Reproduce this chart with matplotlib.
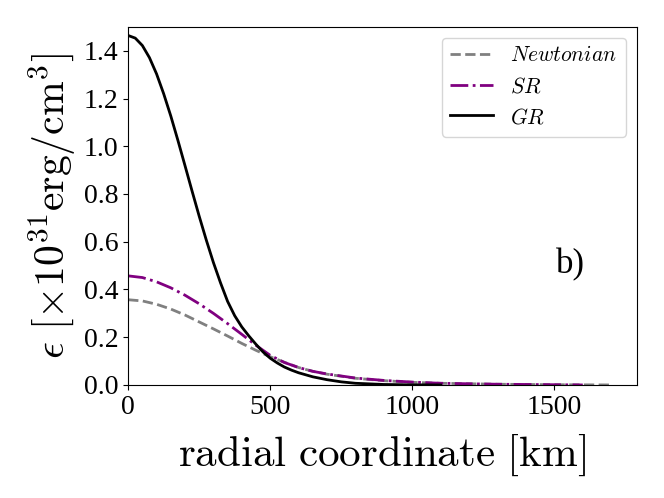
import matplotlib
matplotlib.use("Agg")
import matplotlib.pyplot as plt

plt.rcParams['font.family'] = ['Liberation Serif', 'DejaVu Serif']
plt.rcParams['mathtext.fontset'] = 'cm'

# radial coordinate [km] and energy density [1e31 erg/cm^3]
r_newt = [0, 50, 100, 150, 200, 250, 300, 350, 400, 450, 500, 550, 600, 650, 700,
          800, 900, 1000, 1100, 1200, 1300, 1400, 1500, 1600, 1700]
eps_newt = [0.357, 0.352, 0.338, 0.318, 0.293, 0.264, 0.235, 0.205, 0.174, 0.145,
            0.118, 0.095, 0.073, 0.057, 0.045, 0.028, 0.018, 0.011, 0.007, 0.005,
            0.003, 0.002, 0.001, 0.0005, 0.0]

r_sr = [0, 50, 100, 150, 200, 250, 300, 350, 400, 450, 500, 550, 600, 650, 700,
        800, 900, 1000, 1100, 1200, 1300, 1400, 1500, 1600]
eps_sr = [0.457, 0.450, 0.432, 0.407, 0.376, 0.340, 0.300, 0.257, 0.212, 0.166,
          0.124, 0.094, 0.073, 0.057, 0.046, 0.029, 0.019, 0.012, 0.007, 0.005,
          0.003, 0.002, 0.001, 0.0]

r_gr = [0, 25, 50, 75, 100, 125, 150, 175, 200, 225, 250, 275, 300, 325, 350, 375,
        400, 425, 450, 475, 500, 525, 550, 575, 600, 650, 700, 750, 800, 900, 1000, 1100]
eps_gr = [1.464, 1.453, 1.422, 1.371, 1.303, 1.220, 1.127, 1.025, 0.919, 0.812,
          0.707, 0.607, 0.513, 0.428, 0.350, 0.290, 0.243, 0.205, 0.170, 0.138,
          0.112, 0.092, 0.075, 0.062, 0.051, 0.034, 0.022, 0.013, 0.007, 0.002,
          0.0005, 0.0]

labels = [r'$Newtonian$', r'$SR$', r'$GR$']

fig = plt.figure(figsize=(6.64, 4.98), dpi=100)
ax = fig.add_axes([0.193, 0.227, 0.766, 0.719])

ax.plot(r_newt, eps_newt, color='gray', linestyle='--', linewidth=2, label=labels[0])
ax.plot(r_sr, eps_sr, color='purple', linestyle='-.', linewidth=2, label=labels[1])
ax.plot(r_gr, eps_gr, color='black', linestyle='-', linewidth=2, label=labels[2])

ax.set_xlim(0, 1790)
ax.set_ylim(0, 1.5)
ax.set_xticks([0, 500, 1000, 1500])
ax.set_yticks([0.0, 0.2, 0.4, 0.6, 0.8, 1.0, 1.2, 1.4])
ax.tick_params(labelsize=20)

ax.set_xlabel(r'$\mathrm{radial\ coordinate\ [km]}$', fontsize=31, labelpad=9)
ax.set_ylabel(r'$\epsilon\ [\times 10^{31}\mathrm{erg/cm}^3]$', fontsize=30)

ax.legend(loc='upper right', fontsize=15.5)
ax.text(0.87, 0.335, 'b)', transform=ax.transAxes, fontsize=25,
        ha='center', va='center')

fig.savefig('out.png', dpi=100)
